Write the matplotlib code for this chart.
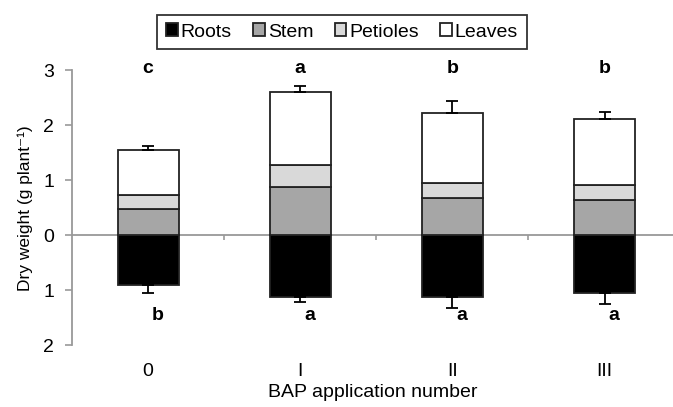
import matplotlib
matplotlib.use("Agg")
import matplotlib.pyplot as plt
import numpy as np

# data (g per plant)
groups = ["0", "I", "II", "III"]
roots = [0.91, 1.13, 1.13, 1.05]
stem = [0.48, 0.87, 0.68, 0.65]
petioles = [0.25, 0.41, 0.27, 0.27]
leaves = [0.83, 1.32, 1.28, 1.20]
err_top = [0.07, 0.12, 0.21, 0.13]
err_roots = [0.15, 0.09, 0.19, 0.20]
letters_top = ["c", "a", "b", "b"]
letters_bottom = ["b", "a", "a", "a"]

plt.rcParams['font.family'] = ['Liberation Sans', 'DejaVu Sans']

fig = plt.figure(figsize=(6.73, 4.07), dpi=100)
ax = fig.add_axes([72/673, 1-345/407, 601/673, (345-70.5)/407])

x = np.arange(len(groups))
w = 0.4
ec = dict(edgecolor='#222222', linewidth=1.3)

stem_arr = np.array(stem)
pet_arr = np.array(petioles)
leaf_arr = np.array(leaves)

ax.bar(x, -np.array(roots), w, color='black', label='Roots', **ec)
ax.bar(x, stem_arr, w, color='#a6a6a6', label='Stem', **ec)
ax.bar(x, pet_arr, w, bottom=stem_arr, color='#d9d9d9', label='Petioles', **ec)
ax.bar(x, leaf_arr, w, bottom=stem_arr+pet_arr, color='white', label='Leaves', **ec)

total = stem_arr + pet_arr + leaf_arr
ax.errorbar(x, total, yerr=[np.zeros(4), err_top], fmt='none', ecolor='black',
            elinewidth=1.3, capsize=4, capthick=1.3)
ax.errorbar(x, -np.array(roots), yerr=[err_roots, np.zeros(4)], fmt='none',
            ecolor='black', elinewidth=1.3, capsize=4, capthick=1.3)

for i in range(len(groups)):
    ax.text(x[i], 3.03, letters_top[i], ha='center', va='center', fontsize=14,
            fontweight='bold', clip_on=False)
    ax.text(x[i] + 0.06, -1.47, letters_bottom[i], ha='center', va='center',
            fontsize=14, fontweight='bold')

# zero line with little ticks between groups
ax.axhline(0, color='#999999', lw=1.3, zorder=0.5)
ax.vlines([0.5, 1.5, 2.5], -0.09, 0, color='#999999', lw=1.2)

ax.set_xlim(-0.5, 3.45)
ax.set_ylim(-2, 3)
ax.set_yticks([-2, -1, 0, 1, 2, 3])
ax.set_yticklabels(["2", "1", "0", "1", "2", "3"], fontsize=14)
ax.set_xticks(x)
ax.set_xticklabels(["0", "I", "II", "III"], fontsize=14)
ax.tick_params(axis='x', length=0, pad=13)
ax.tick_params(axis='y', length=5, width=1.2, color='#999999', pad=8)

for s in ['top', 'right', 'bottom']:
    ax.spines[s].set_visible(False)
ax.spines['left'].set_color('#999999')
ax.spines['left'].set_linewidth(1.3)

ax.set_ylabel("Dry weight (g plant\u207b\u00b9)", fontsize=12.5, labelpad=7)
ax.set_xlabel("BAP application number", fontsize=14, labelpad=3)

leg = fig.legend(loc='center', bbox_to_anchor=(342/673, 1-32/407), ncol=4,
                 fontsize=14, handlelength=0.6, handleheight=0.6,
                 handletextpad=0.15, columnspacing=1.1, fancybox=False,
                 edgecolor='black', borderpad=0.45)
leg.get_frame().set_linewidth(1.3)

fig.savefig("out.png", dpi=100)
